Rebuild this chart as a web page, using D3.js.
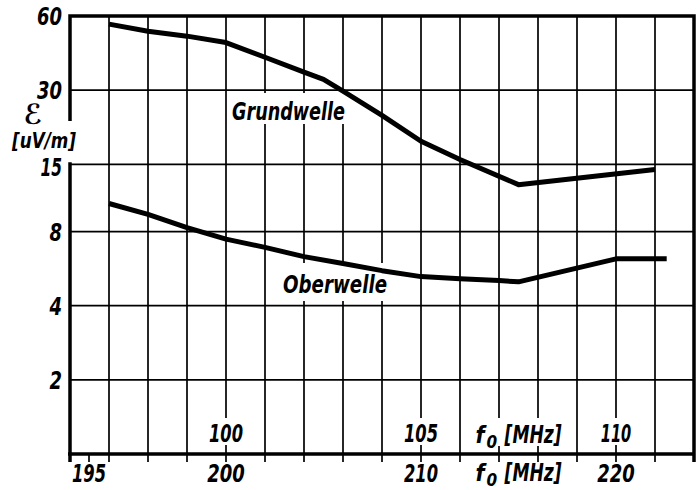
<!DOCTYPE html>
<html>
<head>
<meta charset="utf-8">
<script src="https://cdn.jsdelivr.net/npm/d3@7"></script>
<style>
  body { margin: 0; background: #fff; }
  svg text { font-family: "DejaVu Sans Condensed", "DejaVu Sans", sans-serif; font-stretch: condensed; font-style: italic; font-weight: bold; fill: #000; }
</style>
</head>
<body>
<svg id="chart" width="696" height="490"></svg>
<script>
// field strength E [uV/m] over f0 [MHz]
let f0Grund = [97, 98, 99, 100, 101, 102, 102.5, 103, 104, 105, 106, 107.5, 111];
let eGrund = [55.6, 52, 49.7, 46.8, 40.8, 35.5, 33.2, 29.7, 23.7, 18.6, 15.7, 12.4, 14.3];
let f0Ober = [97, 98, 99, 100, 101, 102, 103, 104, 105, 106, 107, 107.5, 110, 111.3];
let eOber = [10.4, 9.4, 8.3, 7.45, 6.9, 6.33, 5.93, 5.55, 5.25, 5.15, 5.06, 5.0, 6.2, 6.2];

let yTicks = [2, 4, 8, 15, 30, 60];
let gridF0 = d3.range(97, 112);          // vertical grid, one per MHz of f0
let topTicks = [100, 105, 110];          // fundamental scale, inside the plot
let bottomTicks = [195, 200, 210, 220];  // harmonic scale, under the axis

let svg = d3.select("#chart");

//scales
let x = d3.scaleLinear().domain([96, 112]).range([70, 694]);
let xb = d3.scaleLinear().domain([195, 200, 220]).range([89, x(100), x(110)]);
let y = d3.scaleLog().domain([1, 60]).range([454, 16]);

let pLeft = x.range()[0], pRight = x.range()[1];
let pTop = y(60), pBottom = y(1);

//grid
svg.append("g").selectAll("line")
  .data(gridF0)
  .enter().append("line")
  .attr("x1", d => x(d)).attr("x2", d => x(d))
  .attr("y1", pTop).attr("y2", pBottom + 8)
  .attr("stroke", "#000").attr("stroke-width", 1.7);

svg.append("g").selectAll("line")
  .data(yTicks.slice(0, -1))
  .enter().append("line")
  .attr("x1", pLeft).attr("x2", pRight)
  .attr("y1", d => y(d)).attr("y2", d => y(d))
  .attr("stroke", "#000").attr("stroke-width", 1.7);

//white patches where labels break the grid
function patch(x0, y0, w, h){
  svg.append("rect").attr("x", x0).attr("y", y0).attr("width", w).attr("height", h)
    .attr("fill", "#fff");
}
topTicks.forEach(d => patch(x(d) - 22, 418, 44, 27));
patch(x(106.4) - 4, 418, 92, 28);
patch(228, 93, 122, 31);
patch(278, 263, 114, 38);
patch(8, 121, 76, 40);

//frame
svg.append("path")
  .attr("d", `M${pLeft},${pTop + 105}V${pTop}H${pRight}V${pBottom + 8}`)
  .attr("fill", "none").attr("stroke", "#000").attr("stroke-width", 3.5);
svg.append("path")
  .attr("d", `M${pLeft},${y(15) - 2}V${pBottom + 8}M${pLeft - 2},${pBottom}H${pRight}`)
  .attr("fill", "none").attr("stroke", "#000").attr("stroke-width", 3.5);

//tick on the harmonic scale that has no grid line
svg.append("g").selectAll("line")
  .data([195])
  .enter().append("line")
  .attr("x1", d => xb(d)).attr("x2", d => xb(d))
  .attr("y1", pBottom).attr("y2", pBottom + 8)
  .attr("stroke", "#000").attr("stroke-width", 1.7);

//curves
let line = d3.line().x(d => x(d[0])).y(d => y(d[1]));
svg.append("path")
  .datum(d3.zip(f0Grund, eGrund))
  .attr("d", line)
  .attr("fill", "none").attr("stroke", "#000").attr("stroke-width", 5)
  .attr("stroke-linejoin", "round");
svg.append("path")
  .datum(d3.zip(f0Ober, eOber))
  .attr("d", line)
  .attr("fill", "none").attr("stroke", "#000").attr("stroke-width", 5)
  .attr("stroke-linejoin", "round");

//numbers: the scan uses narrow, tall digits
function digitWidth(d){
  return String(d).split("").reduce((s, c) => s + (c == "1" ? 9 : 12.5), 0);
}

//y labels
svg.append("g").selectAll("text")
  .data(yTicks)
  .enter().append("text")
  .attr("x", 62).attr("y", d => y(d) + (d == 15 ? 12 : 9))
  .attr("text-anchor", "end")
  .attr("font-size", 24)
  .attr("textLength", digitWidth).attr("lengthAdjust", "spacingAndGlyphs")
  .text(d => d);

svg.append("text").attr("x", 33).attr("y", 124).attr("text-anchor", "middle")
  .attr("font-size", 28).text("ℰ");
svg.append("text").attr("x", 44).attr("y", 148).attr("text-anchor", "middle")
  .attr("font-size", 21).attr("textLength", 64).attr("lengthAdjust", "spacingAndGlyphs")
  .text("[uV/m]");

//x labels
svg.append("g").selectAll("text")
  .data(topTicks)
  .enter().append("text")
  .attr("x", d => x(d)).attr("y", 442)
  .attr("text-anchor", "middle").attr("font-size", 24)
  .attr("textLength", digitWidth).attr("lengthAdjust", "spacingAndGlyphs")
  .text(d => d);
svg.append("g").selectAll("text")
  .data(bottomTicks)
  .enter().append("text")
  .attr("x", d => xb(d)).attr("y", 482)
  .attr("text-anchor", "middle").attr("font-size", 24)
  .attr("textLength", digitWidth).attr("lengthAdjust", "spacingAndGlyphs")
  .text(d => d);

function unitLabel(x0, y0){
  svg.append("text").attr("x", x0).attr("y", y0).attr("font-size", 23).text("f");
  svg.append("text").attr("x", x0 + 11).attr("y", y0 + 5).attr("font-size", 17).text("0");
  svg.append("text").attr("x", x0 + 29).attr("y", y0).attr("font-size", 24)
    .attr("textLength", 57).attr("lengthAdjust", "spacingAndGlyphs").text("[MHz]");
}
unitLabel(x(106.4), 443);
unitLabel(x(106.4), 481);

//curve names
svg.append("text").attr("x", 232).attr("y", 120).attr("font-size", 25)
  .attr("textLength", 113).attr("lengthAdjust", "spacingAndGlyphs").text("Grundwelle");
svg.append("text").attr("x", 283).attr("y", 293).attr("font-size", 24)
  .attr("textLength", 104).attr("lengthAdjust", "spacingAndGlyphs").text("Oberwelle");
</script>
</body>
</html>
